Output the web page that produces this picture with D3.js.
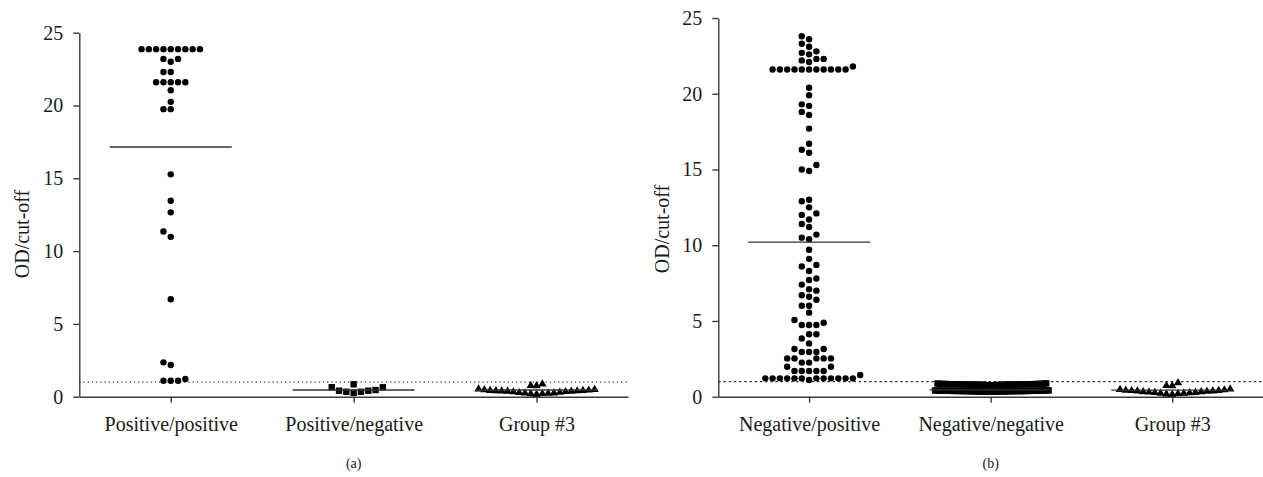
<!DOCTYPE html>
<html>
<head>
<meta charset="utf-8">
<script src="https://cdn.jsdelivr.net/npm/d3@7"></script>
<style>
  body { margin: 0; background: #fff; }
  svg text { font-family: "Liberation Serif", "DejaVu Serif", serif; fill: #1a1a1a; }
  .axis path, .axis line { stroke: #3a3a3a; stroke-width: 1.4; }
</style>
</head>
<body>
<div id="chart"></div>
<script>
// Categories and tick labels
const catsA = ["Positive/positive", "Positive/negative", "Group #3"];
const catsB = ["Negative/positive", "Negative/negative", "Group #3"];
const yTicks = [0, 5, 10, 15, 20, 25];
const cutoff = 1;

// Panel (a) values, OD/cut-off
const posPos = [23.87, 23.87, 23.87, 23.87, 23.87, 23.87, 23.87, 23.87, 23.87,
    23.2, 23.2, 23.0, 22.3, 22.3, 21.6, 21.6, 21.6, 21.6, 21.6, 21.05, 20.25,
    19.75, 19.75, 15.27, 13.46, 12.66, 11.35, 10.98, 6.69, 2.36, 2.18,
    1.22, 1.1, 1.1, 1.1];
const posNeg = [0.65, 0.41, 0.34, 0.85, 0.27, 0.34, 0.41, 0.46, 0.65];
const groupA3 = [0.22, 0.25, 0.26, 0.28, 0.3, 0.3, 0.33, 0.35, 0.38, 0.4, 0.42,
    0.43, 0.44, 0.45, 0.46, 0.47, 0.48, 0.5, 0.52, 0.55, 0.58, 0.8, 0.82, 0.92];
const meansA = [17.15, 0.46, 0.46];

// Panel (b) values, OD/cut-off
const negPos = [1.1, 1.21, 1.21, 1.21, 1.21, 1.21, 1.21, 1.21, 1.21, 1.21, 1.21,
    1.21, 1.21, 1.43, 1.7, 1.7, 1.7, 1.7, 1.7, 1.98, 1.98, 2.25, 2.25,
    2.53, 2.53, 2.53, 2.53, 2.53, 2.95, 2.95, 2.95, 3.15, 3.15, 3.52, 3.85,
    4.12, 4.12, 4.73, 4.73, 4.73, 4.88, 5.06, 5.55, 6.0, 6.0, 6.4,
    6.6, 6.7, 7.0, 7.1, 7.4, 7.7, 7.8, 8.3, 8.6, 8.7, 9.1, 9.7, 10.4, 10.5,
    10.7, 11.2, 11.4, 11.7, 12.0, 12.1, 12.5, 12.9, 13.0, 14.9, 15.0, 15.3,
    16.1, 16.3, 16.7, 17.7, 18.6, 18.8, 19.2, 19.3, 19.9, 20.4,
    21.6, 21.6, 21.6, 21.6, 21.6, 21.6, 21.6, 21.6, 21.6, 21.6, 21.6, 21.8,
    22.1, 22.2, 22.3, 22.3, 22.6, 22.7, 22.8, 23.1, 23.3, 23.6, 23.8];
const negNeg = [0.33, 0.35, 0.34, 0.36, 0.33, 0.37, 0.35, 0.38, 0.34, 0.36, 0.39,
    0.35, 0.38, 0.36, 0.4, 0.34, 0.37, 0.39, 0.35, 0.38, 0.41, 0.34, 0.37, 0.4,
    0.38, 0.36, 0.39, 0.41, 0.35, 0.37, 0.4, 0.38, 0.36, 0.39, 0.42, 0.37, 0.38,
    0.35, 0.4, 0.37, 0.39, 0.36, 0.41, 0.38, 0.34, 0.39, 0.37, 0.4,
    0.8, 0.77, 0.84, 0.79, 0.82, 0.75, 0.86, 0.8, 0.78, 0.83, 0.81, 0.76, 0.85,
    0.79, 0.8, 0.82, 0.77, 0.84, 0.8, 0.81, 0.78, 0.83, 0.79, 0.87, 0.76, 0.81,
    0.82, 0.8, 0.84, 0.78, 0.82, 0.79, 0.83, 0.77, 0.81, 0.85, 0.8, 0.82, 0.79,
    0.81, 0.78, 0.84, 0.8, 0.83, 0.8, 0.88];
const groupB3 = [0.2, 0.22, 0.25, 0.27, 0.28, 0.3, 0.32, 0.33, 0.35, 0.37, 0.38,
    0.4, 0.42, 0.43, 0.45, 0.46, 0.48, 0.5, 0.52, 0.55, 0.77, 0.78, 0.97];
const meansB = [10.2, 0.45, 0.44];

// Set dimensions
const width = 1263;
const height = 477;
const colStep = 7.3;   // horizontal step between neighbour symbols
const rowGap = 6.2;    // vertical gap under which symbols collide
const halfSpread = 58; // widest half-width of a swarm
const meanHalf = 61;

const svg = d3.select("#chart")
    .append("svg")
    .attr("width", width)
    .attr("height", height);

const panels = [
    {cats: catsA, groups: [posPos, posNeg, groupA3], means: meansA, tag: "(a)",
     x0: 79.3, x1: 628, yTop: 32.7, yBottom: 396.7, titleX: 29, titleY: 234, dash: "1.2,3"},
    {cats: catsB, groups: [negPos, negNeg, groupB3], means: meansB, tag: "(b)",
     x0: 718.3, x1: 1263, yTop: 18, yBottom: 396.7, titleX: 669, titleY: 229, dash: "2.4,2.8"}
];

// Symbols: circles, squares, triangles
const shapes = [
    d3.symbol().type(d3.symbolCircle).size(Math.PI * 3.2 * 3.2)(),
    "M-3.2,-3.2H3.2V3.2H-3.2Z",
    "M0,-4L4.2,3.2L-4.2,3.2Z"
];

// Column order used by the scatter-dot layout: 0, -1, +1, +2, -2, +3, -3 ...
const colOrder = [0, -1, 1];
for (let i = 2; i < 200; i++) colOrder.push(i, -i);

// Place each value in the first free column (ascending order)
function swarm(values, y) {
    const placed = [];
    values.slice().sort((a, b) => a - b).forEach(v => {
        const py = y(v);
        for (const k of colOrder) {
            const hit = placed.some(p => p.k === k && Math.abs(p.py - py) < rowGap);
            if (!hit) { placed.push({v, k, py}); break; }
        }
    });
    const maxK = d3.max(placed, p => Math.abs(p.k)) || 1;
    const step = Math.min(colStep, halfSpread / maxK);
    placed.forEach(p => p.dx = p.k * step);
    return placed;
}

panels.forEach(p => {
    const g = svg.append("g");

    const x = d3.scalePoint()
        .domain(p.cats)
        .range([p.x0, p.x1])
        .padding(0.5);

    const y = d3.scaleLinear()
        .domain([0, 25])
        .range([p.yBottom, p.yTop]);

    // Cut-off line
    g.append("line")
        .attr("x1", p.x0)
        .attr("x2", p.x1)
        .attr("y1", y(cutoff))
        .attr("y2", y(cutoff))
        .attr("stroke", "#333")
        .attr("stroke-width", 1.2)
        .attr("stroke-dasharray", p.dash);

    // Axes
    g.append("g")
        .attr("class", "axis")
        .attr("transform", `translate(${p.x0},0)`)
        .call(d3.axisLeft(y).tickValues(yTicks).tickSize(6).tickSizeOuter(0).tickPadding(10))
        .call(a => a.selectAll("text").style("font-size", "20px"));

    g.append("g")
        .attr("class", "axis")
        .attr("transform", `translate(0,${p.yBottom})`)
        .call(d3.axisBottom(x).tickSize(6).tickSizeOuter(0).tickPadding(14))
        .call(a => a.selectAll("text").style("font-size", "20px"));

    // Y-axis label
    g.append("text")
        .attr("transform", `translate(${p.titleX},${p.titleY}) rotate(-90)`)
        .attr("text-anchor", "middle")
        .style("font-size", "20px")
        .text("OD/cut-off");

    // Panel tag
    g.append("text")
        .attr("x", (p.x0 + p.x1) / 2)
        .attr("y", 468)
        .attr("text-anchor", "middle")
        .style("font-size", "14px")
        .text(p.tag);

    // Dots
    p.groups.forEach((vals, i) => {
        const cx = x(p.cats[i]);
        g.selectAll(null)
            .data(swarm(vals, y))
            .enter()
            .append("path")
            .attr("d", shapes[i])
            .attr("transform", d => `translate(${cx + d.dx},${d.py})`)
            .attr("fill", "#000");

        // Mean line
        g.append("line")
            .attr("x1", cx - meanHalf)
            .attr("x2", cx + meanHalf)
            .attr("y1", y(p.means[i]))
            .attr("y2", y(p.means[i]))
            .attr("stroke", "#333")
            .attr("stroke-width", 1.3);
    });
});
</script>
</body>
</html>
